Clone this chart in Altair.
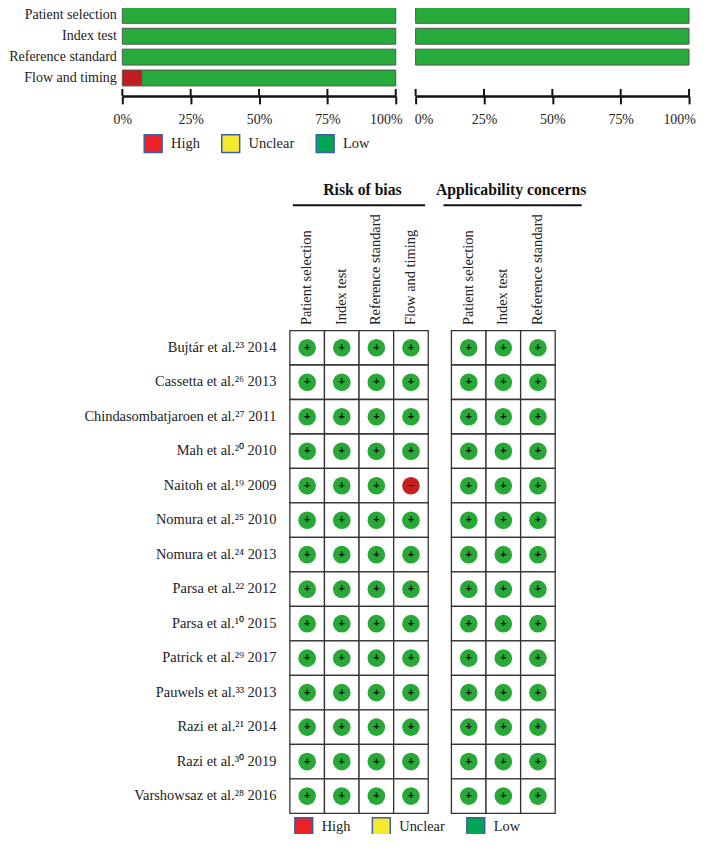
import altair as alt
import pandas as pd

domains = ["Patient selection", "Index test", "Reference standard", "Flow and timing"]
rob_high = [0, 0, 0, 7.14]
rob_low = [100, 100, 100, 92.86]
app_domains = ["Patient selection", "Index test", "Reference standard"]
app_low = [100, 100, 100]
ticks = [0, 25, 50, 75, 100]
levels = ["High", "Unclear", "Low"]
legend_colors = ["#ea2227", "#f5e92f", "#00a651"]

studies = ["Bujtár et al.²³ 2014", "Cassetta  et al.²⁶ 2013", "Chindasombatjaroen et al.²⁷ 2011",
           "Mah et al.²⁰ 2010", "Naitoh et al.¹⁹ 2009", "Nomura et al.²⁵ 2010", "Nomura et al.²⁴ 2013",
           "Parsa et al.²² 2012", "Parsa et al.¹⁰ 2015", "Patrick et al.²⁹ 2017", "Pauwels et al.³³ 2013",
           "Razi et al.²¹ 2014", "Razi et al.³⁰ 2019", "Varshowsaz et al.²⁸ 2016"]
patient_selection = ["Low"] * 14
index_test = ["Low"] * 14
reference_standard = ["Low"] * 14
flow_timing = ["Low", "Low", "Low", "Low", "High", "Low", "Low", "Low", "Low", "Low", "Low", "Low", "Low", "Low"]

SERIF = "Liberation Serif"
BAR_COLORS = alt.Scale(domain=["High", "Low"], range=["#bf1f1e", "#27ab3b"])
DOT_COLORS = alt.Scale(domain=["High", "Low"], range=["#c4201f", "#27a837"])
LEG_FILL = alt.Scale(domain=levels, range=legend_colors)
ROW_H = 485.6
Y_SCALE = alt.Scale(domain=studies, paddingInner=0, paddingOuter=0, round=False)


def legend_layer(x, y):
    return alt.Chart(pd.DataFrame({"level": levels})).mark_square(opacity=0).encode(
        fill=alt.Fill("level:N", scale=LEG_FILL, legend=alt.Legend(
            title=None, orient="none", legendX=x, legendY=y, direction="horizontal", columns=3,
            symbolType="square", symbolSize=324, symbolOpacity=1, symbolStrokeColor="#3c5fa5",
            symbolStrokeWidth=1.5, labelFont=SERIF, labelFontSize=14.5, labelColor="#222",
            labelOffset=8, columnPadding=19, padding=0, labelLimit=200)))


def bars(rows, high, low, left):
    H = 79
    df = pd.DataFrame({"domain": rows * 2, "judgement": ["High"] * len(rows) + ["Low"] * len(rows),
                       "pct": list(high) + list(low)})
    df = df[df.pct > 0]
    y_axis = alt.Axis(title=None, domain=False, ticks=False, labelFont=SERIF, labelFontSize=14.1,
                      labelColor="#222", labelPadding=6, minExtent=111, maxExtent=111) if left else None
    if left:
        offs = "datum.value == 100 ? -10 : 0"
    else:
        offs = "datum.value == 0 ? 8 : (datum.value == 100 ? -10 : 0)"
    x_axis = alt.Axis(title=None, values=ticks, format=".0f", labelExpr="datum.label + '%'", grid=False,
                      offset=10, tickSize=8, tickWidth=2, tickColor="#111", domainWidth=2.5, domainColor="#111",
                      labelFont=SERIF, labelFontSize=14, labelColor="#222", labelPadding=9, labelFlush=False,
                      labelOffset=alt.expr(offs))
    b = alt.Chart(df).mark_bar(stroke="#555", strokeWidth=1).encode(
        x=alt.X("pct:Q", stack="zero", scale=alt.Scale(domain=[0, 100], nice=False), axis=x_axis),
        y=alt.Y("domain:N", sort=domains,
                scale=alt.Scale(domain=domains, paddingInner=0.238, paddingOuter=0, round=False), axis=y_axis),
        color=alt.Color("judgement:N", scale=BAR_COLORS, legend=None),
        order=alt.Order("judgement:N", sort="ascending"),
    )
    up = alt.Chart(pd.DataFrame({"tick": ticks})).mark_rule(color="#111", strokeWidth=2).encode(
        x=alt.X("tick:Q"), y=alt.value(H + 3), y2=alt.value(H + 10))
    layers = [b, up]
    if left:
        layers.append(legend_layer(21, 127))
    return alt.layer(*layers).properties(width=275, height=H)


def study_labels(width, text_x):
    return alt.Chart(pd.DataFrame({"study": studies})).mark_text(
        font=SERIF, fontSize=14.5, color="#222", align="right", baseline="middle"
    ).encode(
        x=alt.value(text_x), text="study:N",
        y=alt.Y("study:N", sort=studies, scale=Y_SCALE, axis=None)
    ).properties(width=width, height=ROW_H)


def grid(columns, title, title_x, rule_x, rule_x2, left):
    rows = []
    for name, vals in columns:
        for s, v in zip(studies, vals):
            rows.append({"study": s, "domain": name, "judgement": v, "sign": "+" if v == "Low" else "–"})
    df = pd.DataFrame(rows)
    names = [c[0] for c in columns]
    X = alt.X("domain:N", sort=names, scale=alt.Scale(domain=names, paddingInner=0, paddingOuter=0, round=False),
              axis=alt.Axis(orient="top", title=None, domain=False, ticks=False, labelAngle=270,
                            labelFont=SERIF, labelFontSize=14.5, labelColor="#222", labelPadding=6, labelLimit=200))
    Y = alt.Y("study:N", sort=studies, scale=Y_SCALE, axis=None)
    cell = alt.Chart(df).mark_rect(fill="white", stroke="#333", strokeWidth=1.3).encode(x=X, y=Y)
    dot = alt.Chart(df).mark_circle(size=314, opacity=1).encode(
        x=X, y=Y, color=alt.Color("judgement:N", scale=DOT_COLORS, legend=None))
    sign = alt.Chart(df).mark_text(font="Liberation Sans", fontSize=11, fontWeight="bold", color="#111",
                                   baseline="middle").encode(x=X, y=Y, text="sign:N")
    head = alt.Chart(pd.DataFrame({"label": [title]})).mark_text(
        font=SERIF, fontSize=15.8, fontWeight="bold", color="#111", align="center", baseline="middle"
    ).encode(x=alt.value(title_x), y=alt.value(-141), text="label:N")
    rule = alt.Chart(pd.DataFrame({"label": [title]})).mark_rule(color="#111", strokeWidth=2).encode(
        x=alt.value(rule_x), x2=alt.value(rule_x2), y=alt.value(-126))
    layers = [cell, dot, sign, head, rule]
    if left:
        layers.append(legend_layer(4, 489))
    return alt.layer(*layers).properties(width=34.8 * len(names), height=ROW_H)


top = alt.hconcat(bars(domains, rob_high, rob_low, True),
                  bars(app_domains, [0, 0, 0], app_low, False),
                  spacing=20, bounds="flush").resolve_scale(color="independent", fill="independent")
bottom = alt.hconcat(
    study_labels(145.5, 155),
    grid(list(zip(domains, [patient_selection, index_test, reference_standard, flow_timing])),
         "Risk of bias", 73, 3, 136, True),
    grid(list(zip(app_domains, [patient_selection, index_test, reference_standard])),
         "Applicability concerns", 60, -8, 131, False),
    spacing=22.5, bounds="flush").resolve_scale(color="independent", fill="independent")

chart = alt.concat(top, bottom, columns=1, spacing=325, bounds="flush").resolve_scale(
    color="independent", fill="independent").properties(
    padding={"left": 0, "top": -4, "right": 0, "bottom": -7}, background="white"
).configure_view(stroke=None)

chart.save("out.html", embed_options={"renderer": "svg", "actions": False})
